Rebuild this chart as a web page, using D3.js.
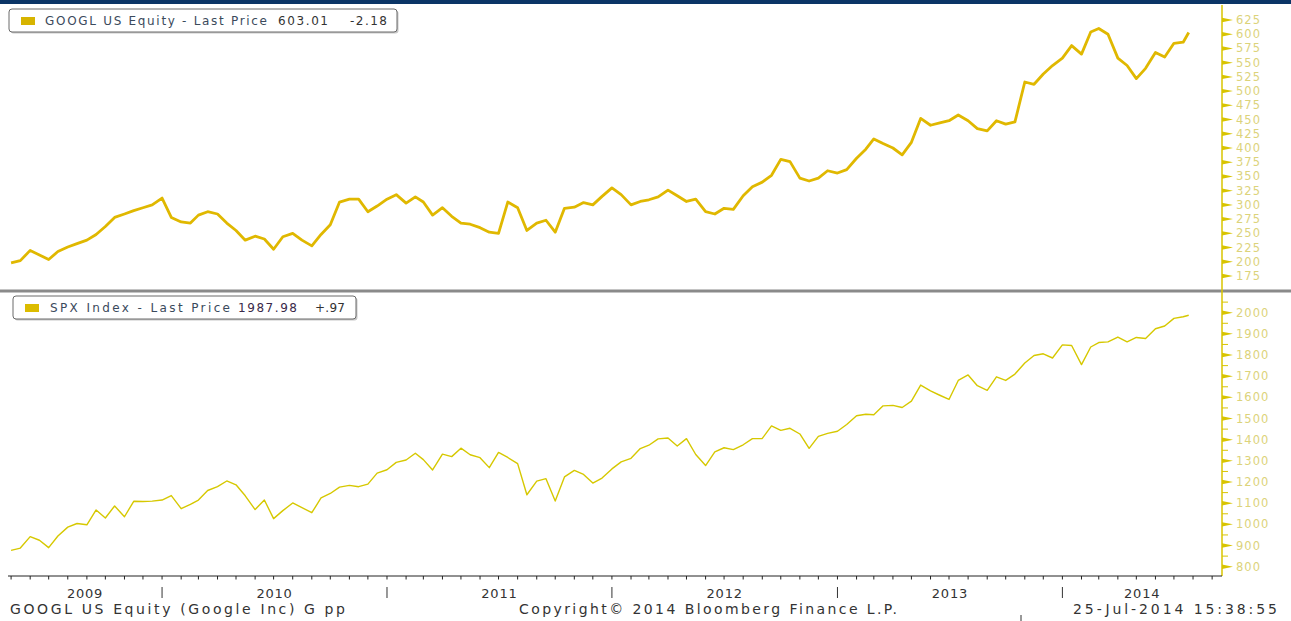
<!DOCTYPE html>
<html>
<head>
<meta charset="utf-8">
<script src="https://d3js.org/d3.v7.min.js"></script>
<style>
  body { margin: 0; background: #fff; }
  text { font-family: "DejaVu Sans", Verdana, sans-serif; }
</style>
</head>
<body>
<script>
// semi-monthly closes (1st and 16th of each month), May 2009 .. Jul 2014, last point 25-Jul-2014
const firstMonth = '2009-05'
const lastDate = '2014-07-25'

const googlValues = [
  198, 202, 220, 212, 204, 218, 226, 232, 238, 248, 262, 278, 284, 290, 295, 300,
  312, 278, 270, 268, 282, 288, 284, 268, 255, 238, 245, 240, 222, 244, 250, 238,
  228, 248, 265, 305, 310, 310, 288, 298,
  310, 318, 303, 314, 305, 282, 295, 280, 268, 266, 260, 252, 250, 305, 295, 255,
  268, 273, 252, 294, 296, 304, 300, 315,
  330, 318, 300, 306, 309, 314, 326, 316, 306, 310, 288, 284, 294, 292, 316, 332,
  340, 352, 380, 376, 347, 342, 347, 360,
  356, 362, 382, 398, 416, 408, 400, 388, 410, 452, 440, 444, 448, 458, 448, 434,
  430, 448, 442, 446, 516, 512, 530, 545,
  558, 580, 565, 604, 610, 600, 558, 545, 522, 540, 568, 560, 584, 586, 603
]

const spxValues = [
  877, 888, 942, 925, 890, 945, 987, 1004, 998, 1068, 1030, 1087, 1036, 1109, 1108, 1110,
  1115, 1136, 1074, 1094, 1115, 1160, 1178, 1205, 1187, 1135, 1070, 1115, 1027, 1065, 1101, 1079,
  1055, 1125, 1146, 1176, 1184, 1178, 1190, 1242,
  1258, 1293, 1304, 1336, 1306, 1257, 1332, 1320, 1360, 1329, 1315, 1268, 1340, 1316, 1287, 1140,
  1204, 1216, 1110, 1224, 1255, 1236, 1195, 1219,
  1262, 1295, 1312, 1358, 1374, 1404, 1408, 1370, 1405, 1330, 1278, 1342, 1362, 1353, 1376, 1405,
  1406, 1465, 1444, 1454, 1427, 1359, 1416, 1430,
  1440, 1472, 1513, 1520, 1518, 1560, 1562, 1552, 1582, 1658, 1631, 1610, 1590, 1680, 1706, 1655,
  1633, 1697, 1680, 1710, 1762, 1798, 1806, 1786,
  1848, 1845, 1755, 1838, 1859, 1862, 1885, 1862, 1883, 1878, 1924, 1937, 1973, 1981, 1988
]

const googlTicks = [175, 200, 225, 250, 275, 300, 325, 350, 375, 400, 425, 450, 475, 500, 525, 550, 575, 600, 625]
const spxTicks = [800, 900, 1000, 1100, 1200, 1300, 1400, 1500, 1600, 1700, 1800, 1900, 2000]
const yearLabels = ['2009', '2010', '2011', '2012', '2013', '2014']

const width = 1291, height = 621
const axisX = 1222
const lineColor = '#e0b800', spxColor = '#d6c800', tickColor = '#d8c400'

// build the dates list
let dates = []
let m = d3.timeParse('%Y-%m')(firstMonth)
while (dates.length < googlValues.length - 1) {
  dates.push(new Date(m))
  dates.push(d3.timeDay.offset(m, 15))
  m = d3.timeMonth.offset(m, 1)
}
dates.push(d3.timeParse('%Y-%m-%d')(lastDate))

const x = d3.scaleTime()
  .domain([new Date(2009, 3, 26), new Date(2014, 8, 17)])
  .range([8, axisX])
const yTop = d3.scaleLinear().domain([175, 625]).range([276, 20])
const yBot = d3.scaleLinear().domain([800, 2000]).range([566.7, 312.7])

let svg = d3.select('body').append('svg')
  .attr('width', width).attr('height', height)
  .style('display', 'block')

// top navy bar and panel separator
svg.append('rect').attr('x', 0).attr('y', 0).attr('width', width).attr('height', 4).attr('fill', '#0b3566')
svg.append('rect').attr('x', 0).attr('y', 289.5).attr('width', width).attr('height', 3).attr('fill', '#8a8a8a')

// price lines
svg.append('path')
  .datum(googlValues)
  .attr('d', d3.line().x((d, i) => x(dates[i])).y(d => yTop(d)))
  .attr('fill', 'none').attr('stroke', lineColor)
  .attr('stroke-width', 2.8).attr('stroke-linejoin', 'round')

svg.append('path')
  .datum(spxValues)
  .attr('d', d3.line().x((d, i) => x(dates[i])).y(d => yBot(d)))
  .attr('fill', 'none').attr('stroke', spxColor)
  .attr('stroke-width', 1.4).attr('stroke-linejoin', 'round')

// right value axis
svg.append('line').attr('x1', axisX).attr('x2', axisX).attr('y1', 5).attr('y2', 576)
  .attr('stroke', tickColor).attr('stroke-width', 1.5)

function valueTicks(ticks, y, minor) {
  let g = svg.append('g')
  ticks.forEach(t => {
    let yy = y(t)
    g.append('path')
      .attr('d', `M${axisX},${yy - 2.2}L${axisX + 11},${yy}L${axisX},${yy + 2.2}Z`)
      .attr('fill', tickColor)
    g.append('text')
      .attr('x', axisX + 14).attr('y', yy + 4)
      .attr('font-size', 11.5).attr('letter-spacing', 1)
      .attr('fill', '#dcd37a')
      .text(t)
    if (minor) {
      g.append('line')
        .attr('x1', axisX).attr('x2', axisX + 6)
        .attr('y1', y(t + minor)).attr('y2', y(t + minor))
        .attr('stroke', tickColor).attr('stroke-width', 1)
    }
  })
}
valueTicks(googlTicks, yTop, 0)
valueTicks(spxTicks, yBot, 50)

// bottom time axis
svg.append('line').attr('x1', 8).attr('x2', axisX).attr('y1', 576).attr('y2', 576)
  .attr('stroke', '#222').attr('stroke-width', 1)
svg.append('g').selectAll('line')
  .data(d3.timeMonth.range(x.domain()[0], x.domain()[1]))
  .join('line')
  .attr('x1', d => x(d)).attr('x2', d => x(d))
  .attr('y1', 576).attr('y2', 579.5)
  .attr('stroke', '#222')

const yearStarts = d3.timeYear.range(x.domain()[0], x.domain()[1])
svg.append('g').selectAll('line')
  .data(yearStarts)
  .join('line')
  .attr('x1', d => x(d)).attr('x2', d => x(d))
  .attr('y1', 587).attr('y2', 598)
  .attr('stroke', '#333')

const bounds = [x.range()[0]].concat(yearStarts.map(x), [x.range()[1]])
svg.append('g').selectAll('text')
  .data(yearLabels)
  .join('text')
  .attr('x', (d, i) => (bounds[i] + bounds[i + 1]) / 2)
  .attr('y', 598)
  .attr('text-anchor', 'middle')
  .attr('font-size', 13).attr('letter-spacing', 0.8)
  .attr('fill', '#333')
  .text(d => d)

// legends
function legend(x0, y0, w, swatch, parts) {
  let g = svg.append('g')
  g.append('rect').attr('x', x0 + 1.5).attr('y', y0 + 1.5).attr('width', w).attr('height', 23)
    .attr('rx', 3).attr('fill', '#c8c8c8')
  g.append('rect').attr('x', x0).attr('y', y0).attr('width', w).attr('height', 23)
    .attr('rx', 3).attr('fill', '#fff').attr('stroke', '#6a6a6a')
  g.append('rect').attr('x', x0 + 12).attr('y', y0 + 8).attr('width', 14).attr('height', 8)
    .attr('fill', swatch)
  parts.forEach(p => {
    g.append('text')
      .attr('x', p[1]).attr('y', y0 + 16)
      .attr('font-size', 12)
      .attr('textLength', p[2]).attr('lengthAdjust', 'spacing')
      .attr('fill', p[3])
      .text(p[0])
  })
}
legend(9, 9, 388, '#d7b400', [
  ['GOOGL US Equity - Last Price', 45, 222, '#3b4a5c'],
  ['603.01', 278, 50, '#333'],
  ['-2.18', 350, 37, '#333']
])
legend(13, 296, 343, '#dcbc00', [
  ['SPX Index - Last Price', 50, 180, '#3b4a5c'],
  ['1987.98', 238, 59, '#3a2a4a'],
  ['+.97', 315, 30, '#333']
])

// footer
function footer(t, x0, len) {
  svg.append('text')
    .attr('x', x0).attr('y', 614)
    .attr('font-size', 14)
    .attr('textLength', len).attr('lengthAdjust', 'spacing')
    .attr('fill', '#333')
    .text(t)
}
footer('GOOGL US Equity (Google Inc) G pp', 10, 335)
footer('Copyright\u00a9 2014 Bloomberg Finance L.P.', 519, 378)
footer('25-Jul-2014 15:38:55', 1073, 204)
svg.append('line').attr('x1', 1021).attr('x2', 1021).attr('y1', 615).attr('y2', 621).attr('stroke', '#333')
</script>
</body>
</html>
